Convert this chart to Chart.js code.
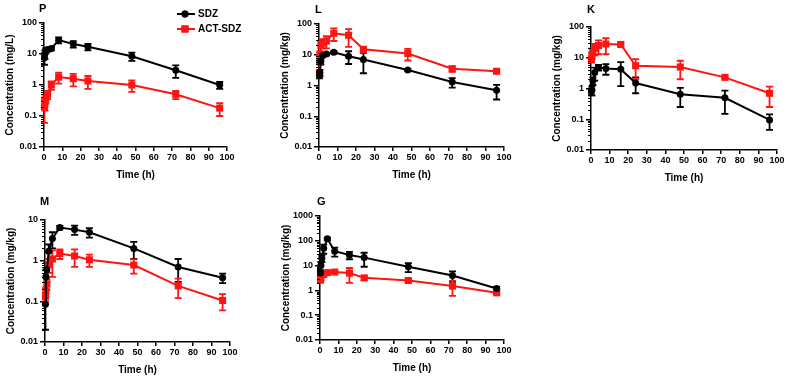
<!DOCTYPE html>
<html>
<head>
<meta charset="utf-8">
<script src="https://cdn.jsdelivr.net/npm/chart.js@4"></script>
<style>
  body { margin: 0; background: #fff; width: 790px; height: 379px; position: relative; overflow: hidden; }
  canvas { position: absolute; }
</style>
</head>
<body>
<canvas id="cP" width="245" height="185" style="left:0px;top:0px"></canvas>
<canvas id="cL" width="250" height="185" style="left:275px;top:0px"></canvas>
<canvas id="cK" width="243" height="188" style="left:547px;top:0px"></canvas>
<canvas id="cM" width="250" height="190" style="left:1px;top:190px"></canvas>
<canvas id="cG" width="250" height="188" style="left:276px;top:190px"></canvas>
<script>
// sampling times (h)
const times = [0.25, 0.5, 1, 2, 4, 8, 16, 24, 48, 72, 96];
const xTicks = [0, 10, 20, 30, 40, 50, 60, 70, 80, 90, 100];
const seriesNames = ["SDZ", "ACT-SDZ"];

// P
const sdzP = [7.5, 10, 13, 14, 15, 28, 21, 17, 8.5, 3, 1];
const sdzPErr = [3, 3, 2.5, 2, 2, 6, 5, 4, 2.5, 1.3, 0.25];
const actP = [0.2, 0.25, 0.35, 0.5, 1.0, 1.8, 1.6, 1.35, 1.0, 0.5, 0.18];
const actPErr = [0.14, 0.1, 0.1, 0.15, 0.3, 0.7, 0.7, 0.6, 0.4, 0.15, 0.08];

// L
const sdzL = [2.2, 2.6, 6, 9.5, 10.5, 12, 9, 7, 3.2, 1.3, 0.7];
const sdzLErr = [0.5, 0.6, 1.2, 1, 1, 1, 4, 4.5, 0.2, 0.45, 0.35];
const actL = [6, 10, 20, 24, 28, 50, 43, 15, 11, 3.5, 2.9];
const actLErr = [3, 3, 8, 8, 12, 22, 25, 3, 4.5, 0.7, 0.3];

// K
const sdzK = [0.8, 0.9, 1.8, 3.3, 4.8, 4.5, 4.2, 1.5, 0.65, 0.5, 0.095];
const sdzKErr = [0.2, 0.3, 0.5, 1.5, 1, 1.7, 3, 0.8, 0.4, 0.35, 0.05];
const actK = [9, 12, 16, 20, 25, 28, 27, 5.5, 5, 2.3, 0.7];
const actKErr = [2, 3, 4, 8, 12, 15, 3, 3.5, 3, 0.2, 0.45];

// M
const sdzM = [0.085, 0.4, 0.6, 1.7, 3.5, 6.5, 5.8, 5, 2, 0.7, 0.38];
const sdzMErr = [0.065, 0.2, 0.3, 0.8, 1.5, 0.7, 1.5, 1.3, 0.9, 0.4, 0.1];
const actM = [0.13, 0.18, 0.27, 0.8, 1.1, 1.5, 1.3, 1.05, 0.78, 0.24, 0.105];
const actMErr = [0.03, 0.05, 0.08, 0.3, 0.7, 0.4, 0.6, 0.35, 0.3, 0.12, 0.045];

// G
const sdzG = [5, 10, 20, 50, 120, 38, 27, 21, 9, 4, 1.2];
const sdzGErr = [1.5, 4, 6, 20, 15, 15, 9, 12, 3.5, 1.8, 0.2];
const actG = [3, 3.5, 4.5, 4.5, 5.2, 5.5, 5, 3.2, 2.5, 1.5, 0.8];
const actGErr = [1, 1, 1, 1, 1, 0.5, 3, 0.6, 0.4, 0.9, 0.1];

const BLACK = "#000000";
const RED = "#ff1414";
const FONT = "'Liberation Sans', Arial, sans-serif";

Chart.defaults.font.family = FONT;
Chart.defaults.font.weight = "bold";
Chart.defaults.color = "#000";

// vertical error bars with caps, drawn behind the points
const errorBars = {
  id: "errorBars",
  beforeDatasetsDraw(chart) {
    const { ctx } = chart;
    const x = chart.scales.x, y = chart.scales.y;
    chart.data.datasets.forEach((ds) => {
      ctx.save();
      ctx.strokeStyle = ds.borderColor;
      ctx.lineWidth = 1.8;
      ds.errors.forEach((e, j) => {
        const v = ds.data[j].y;
        const px = x.getPixelForValue(ds.data[j].x);
        const hi = y.getPixelForValue(v + e);
        const lowVal = v - e;
        const lo = y.getPixelForValue(lowVal > y.min ? lowVal : y.min);
        ctx.beginPath();
        ctx.moveTo(px, hi);
        ctx.lineTo(px, lo);
        ctx.moveTo(px - 3.5, hi);
        ctx.lineTo(px + 3.5, hi);
        if (lowVal > y.min) {
          ctx.moveTo(px - 3.5, lo);
          ctx.lineTo(px + 3.5, lo);
        }
        ctx.stroke();
      });
      ctx.restore();
    });
  }
};

// minor ticks on the log axis, panel letter and small legend
const decorations = {
  id: "decorations",
  afterDraw(chart, args, opts) {
    const { ctx, chartArea } = chart;
    const y = chart.scales.y;
    ctx.save();
    ctx.strokeStyle = "#000";
    ctx.lineWidth = 1;
    ctx.beginPath();
    for (let d = y.min; d < y.max * 0.999; d *= 10) {
      for (let k = 2; k <= 9; k++) {
        const py = Math.round(y.getPixelForValue(d * k)) + 0.5;
        ctx.moveTo(chartArea.left - 3, py);
        ctx.lineTo(chartArea.left, py);
      }
    }
    ctx.stroke();

    ctx.fillStyle = "#000";
    ctx.font = "bold 11px " + FONT;
    ctx.textBaseline = "middle";
    ctx.textAlign = "left";
    ctx.fillText(opts.letter, opts.letterX, opts.letterY);

    if (opts.legend) {
      const lg = opts.legend;
      ctx.font = "bold 10px " + FONT;
      chart.data.datasets.forEach((ds, i) => {
        const ly = lg.y + i * lg.gap;
        ctx.strokeStyle = ds.borderColor;
        ctx.lineWidth = 2;
        ctx.beginPath();
        ctx.moveTo(lg.x, ly);
        ctx.lineTo(lg.x + 18, ly);
        ctx.stroke();
        ctx.fillStyle = ds.borderColor;
        Chart.helpers.drawPoint(ctx, {
          pointStyle: ds.pointStyle, radius: ds.pointRadius, borderWidth: 0
        }, lg.x + 8, ly);
        ctx.fill();
        ctx.fillStyle = "#000";
        ctx.fillText(ds.label, lg.x + 21, ly);
      });
    }
    ctx.restore();
  }
};

function toPoints(values) {
  return values.map((v, i) => ({ x: times[i], y: v }));
}

function makePanel(id, p) {
  new Chart(document.getElementById(id), {
    type: "line",
    data: {
      datasets: [
        {
          label: seriesNames[0], data: toPoints(p.sdz), errors: p.sdzErr,
          borderColor: BLACK, backgroundColor: BLACK, borderWidth: 2,
          pointStyle: "circle", pointRadius: 3.5, pointBorderWidth: 0, clip: false
        },
        {
          label: seriesNames[1], data: toPoints(p.act), errors: p.actErr,
          borderColor: RED, backgroundColor: RED, borderWidth: 2,
          pointStyle: "rect", pointRadius: 5, pointBorderWidth: 0, clip: false
        }
      ]
    },
    options: {
      responsive: false,
      animation: false,
      events: [],
      layout: { padding: { top: p.top, right: p.right, left: 0, bottom: 0 } },
      plugins: {
        legend: { display: false },
        tooltip: { enabled: false },
        decorations: { letter: p.letter, letterX: p.letterX, letterY: p.letterY, legend: p.legend }
      },
      scales: {
        x: {
          type: "linear", min: 0, max: 100,
          afterBuildTicks: (s) => { s.ticks = xTicks.map((v) => ({ value: v })); },
          afterFit: (s) => { s.height = 38; },
          grid: { drawOnChartArea: false, tickLength: 4, color: "#000", lineWidth: 1.5 },
          border: { color: "#000", width: 1.5 },
          ticks: { font: { size: 9, weight: "bold" }, padding: 1, maxRotation: 0 },
          title: { display: true, text: "Time (h)", font: { size: 10, weight: "bold" }, padding: { top: 2, bottom: 4 } }
        },
        y: {
          type: "logarithmic", min: p.yMin, max: p.yMax,
          afterBuildTicks: (s) => {
            const t = [];
            for (let v = p.yMin; v <= p.yMax * 1.001; v *= 10) t.push({ value: +v.toPrecision(2) });
            s.ticks = t;
          },
          afterFit: (s) => { s.width = 44; },
          grid: { drawOnChartArea: false, tickLength: 5, color: "#000", lineWidth: 1.5 },
          border: { color: "#000", width: 1.5 },
          ticks: { font: { size: 9, weight: "bold" }, padding: 2, callback: (v) => String(+Number(v).toPrecision(2)) },
          title: { display: true, text: p.yTitle, font: { size: 10, weight: "bold" }, padding: { top: 4, bottom: 2 } }
        }
      }
    },
    plugins: [errorBars, decorations]
  });
}

makePanel("cP", { sdz: sdzP, sdzErr: sdzPErr, act: actP, actErr: actPErr, yMin: 0.01, yMax: 100,
  yTitle: "Concentration (mg/L)", letter: "P", letterX: 39, letterY: 9, top: 23, right: 18,
  legend: { x: 177, y: 14, gap: 15 } });
makePanel("cL", { sdz: sdzL, sdzErr: sdzLErr, act: actL, actErr: actLErr, yMin: 0.01, yMax: 100,
  yTitle: "Concentration (mg/kg)", letter: "L", letterX: 40, letterY: 10, top: 24, right: 21 });
makePanel("cK", { sdz: sdzK, sdzErr: sdzKErr, act: actK, actErr: actKErr, yMin: 0.01, yMax: 100,
  yTitle: "Concentration (mg/kg)", letter: "K", letterX: 40, letterY: 10, top: 27, right: 13 });
makePanel("cM", { sdz: sdzM, sdzErr: sdzMErr, act: actM, actErr: actMErr, yMin: 0.01, yMax: 10,
  yTitle: "Concentration (mg/kg)", letter: "M", letterX: 39, letterY: 12, top: 30, right: 21 });
makePanel("cG", { sdz: sdzG, sdzErr: sdzGErr, act: actG, actErr: actGErr, yMin: 0.01, yMax: 1000,
  yTitle: "Concentration (mg/kg)", letter: "G", letterX: 41, letterY: 12, top: 26, right: 22 });
</script>
</body>
</html>
